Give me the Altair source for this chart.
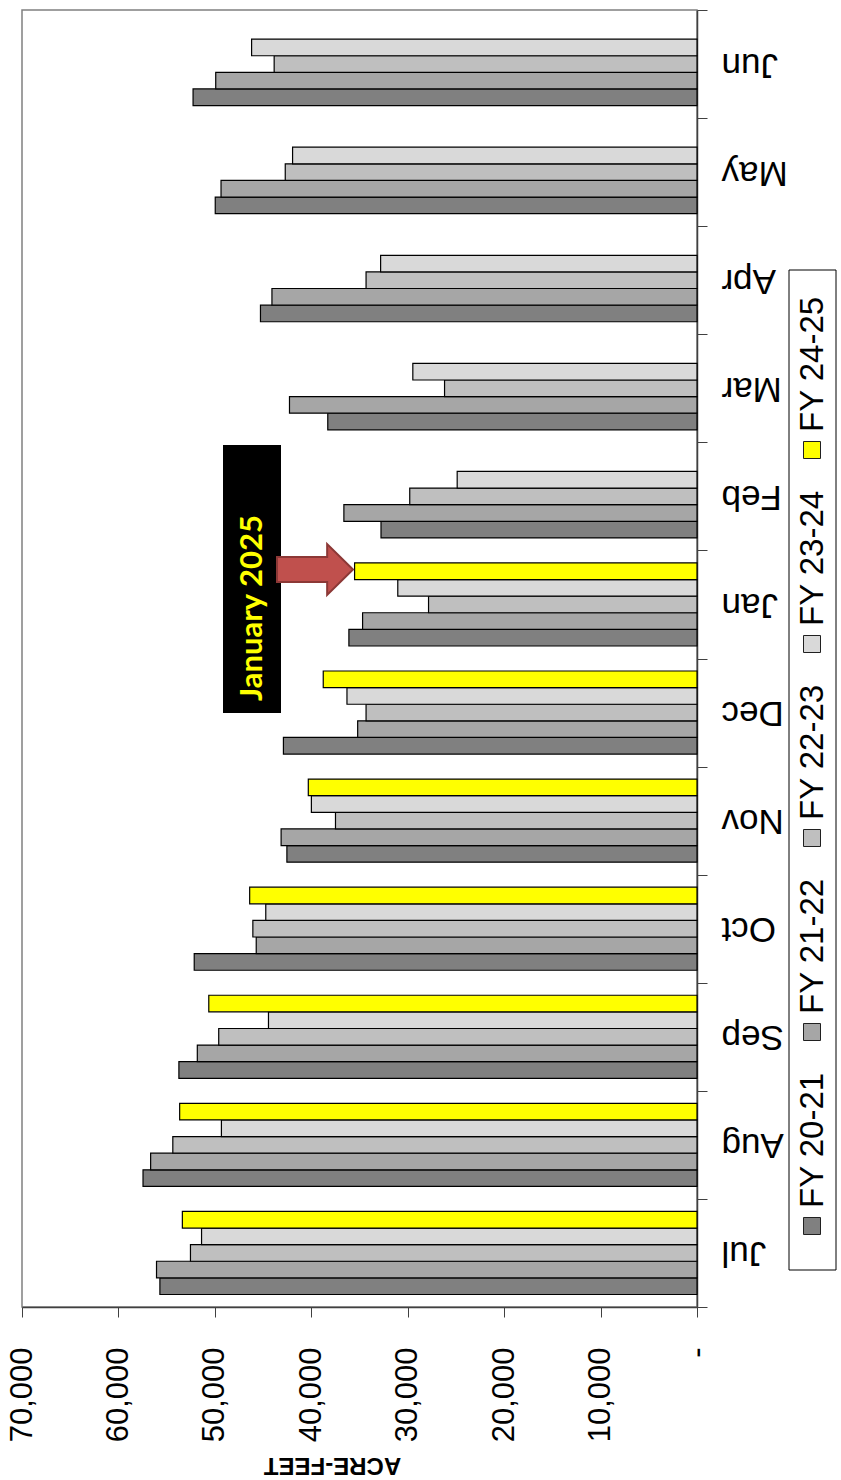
import altair as alt
import pandas as pd

months = ["Jul", "Aug", "Sep", "Oct", "Nov", "Dec", "Jan", "Feb", "Mar", "Apr", "May", "Jun"]
series = ["FY 20-21", "FY 21-22", "FY 22-23", "FY 23-24", "FY 24-25"]
colors = ["#808080", "#A6A6A6", "#BFBFBF", "#D9D9D9", "#FFFF00"]

fy20_21 = [55700, 57450, 53730, 52140, 42530, 42890, 36100, 32770, 38290, 45270, 49960, 52260]
fy21_22 = [56050, 56660, 51820, 45710, 43130, 35190, 34680, 36620, 42260, 44080, 49360, 49910]
fy22_23 = [52530, 54360, 49600, 46060, 37490, 34320, 27840, 29790, 26180, 34320, 42700, 43850]
fy23_24 = [51380, 49320, 44440, 44720, 39990, 36300, 31030, 24870, 29470, 32810, 41940, 46190]
fy24_25 = [53370, 53650, 50630, 46390, 40310, 38760, 35510, None, None, None, None, None]

x_ticks = [0, 10000, 20000, 30000, 40000, 50000, 60000, 70000]

rows = []
for s, vals in zip(series, [fy20_21, fy21_22, fy22_23, fy23_24, fy24_25]):
    for m, v in zip(months, vals):
        if v is not None:
            rows.append({"month": m, "series": s, "value": v})
df = pd.DataFrame(rows)
one = pd.DataFrame({"k": [0]})

FONT = "Liberation Sans"

bars = alt.Chart(df).mark_bar(stroke="black", strokeWidth=1.2).encode(
    x=alt.X(
        "value:Q",
        scale=alt.Scale(domain=[0, 70000], reverse=True, nice=False, zero=True),
        axis=alt.Axis(
            values=x_ticks,
            orient="bottom",
            grid=False,
            labelAngle=270,
            labelAlign="right",
            labelBaseline="middle",
            labelFont=FONT,
            labelFontSize=31,
            labelColor="black",
            labelPadding=30,
            labelFlush=False,
            labelOverlap=False,
            labelBound=False,
            labelExpr="datum.value == 0 ? '-\u00a0\u00a0' : format(datum.value, ',')",
            tickSize=10,
            tickColor="#404040",
            domainColor="#404040",
            domainWidth=1.5,
            title="ACRE-FEET",
            titleAngle=180,
            titleFont=FONT,
            titleFontSize=24,
            titleFontWeight="bold",
            titleColor="black",
            titleAlign="center",
            titleBaseline="middle",
            titleX=310,
            titleY=157,
        ),
    ),
    y=alt.Y(
        "month:N",
        scale=alt.Scale(domain=months[::-1], paddingInner=0, paddingOuter=0),
        axis=alt.Axis(
            orient="right",
            title=None,
            labelAngle=180,
            labelAlign="right",
            labelBaseline="middle",
            labelFont=FONT,
            labelFontSize=35,
            labelColor="black",
            labelPadding=14,
            labelOverlap=False,
            labelBound=False,
            tickBand="extent",
            tickSize=10,
            tickColor="#404040",
            domainColor="#404040",
            domainWidth=1.5,
        ),
    ),
    yOffset=alt.YOffset(
        "series:N",
        scale=alt.Scale(domain=series[::-1], paddingInner=0, paddingOuter=0.753),
    ),
    color=alt.Color("series:N", scale=alt.Scale(domain=series, range=colors), legend=None),
)

# Annotation: black box with label and red arrow
ann_box = alt.Chart(one).mark_rect(color="black").encode(
    x=alt.value(201), x2=alt.value(259), y=alt.value(435), y2=alt.value(703)
)
ann_text = alt.Chart(one).mark_text(
    text="January 2025", angle=270, font="Lato", fontWeight="bold", fontSize=31,
    color="#FFFF00", align="center", baseline="middle",
).encode(x=alt.value(231), y=alt.value(598))
arrow_path = "M -1 -0.33 L 0.32 -0.33 L 0.32 -0.67 L 1 0 L 0.32 0.67 L 0.32 0.33 L -1 0.33 Z"
ann_arrow = alt.Chart(one).mark_point(
    shape=arrow_path, size=5776, filled=True, fill="#C0504D", fillOpacity=1,
    stroke="#8C3836", strokeWidth=2, opacity=1,
).encode(x=alt.value(293), y=alt.value(559.5))

# Manual legend (rotated)
legend_layers = [
    alt.Chart(one).mark_rect(fill="white", stroke="black", strokeWidth=1).encode(
        x=alt.value(767), x2=alt.value(814), y=alt.value(260), y2=alt.value(1260)
    )
]
for i, (s, c) in enumerate(zip(series, colors)):
    cy = 440 + (4 - i) * 194
    legend_layers.append(
        alt.Chart(one).mark_rect(fill=c, stroke="#202020", strokeWidth=1).encode(
            x=alt.value(781.5), x2=alt.value(798.5), y=alt.value(cy - 8.5), y2=alt.value(cy + 8.5)
        )
    )
    legend_layers.append(
        alt.Chart(one).mark_text(
            text=s, angle=270, font=FONT, fontSize=33, color="black",
            align="left", baseline="middle",
        ).encode(x=alt.value(791), y=alt.value(cy - 18))
    )

chart = alt.layer(bars, ann_box, ann_text, ann_arrow, *legend_layers).properties(
    width=675,
    height=1297,
    autosize=alt.AutoSizeParams(type="none"),
    padding={"left": 22, "top": 10, "right": 144, "bottom": 173},
    background="white",
).configure_view(stroke="#808080", strokeWidth=1.5)

chart.save("out.html", embed_options={"renderer": "svg", "actions": False})
